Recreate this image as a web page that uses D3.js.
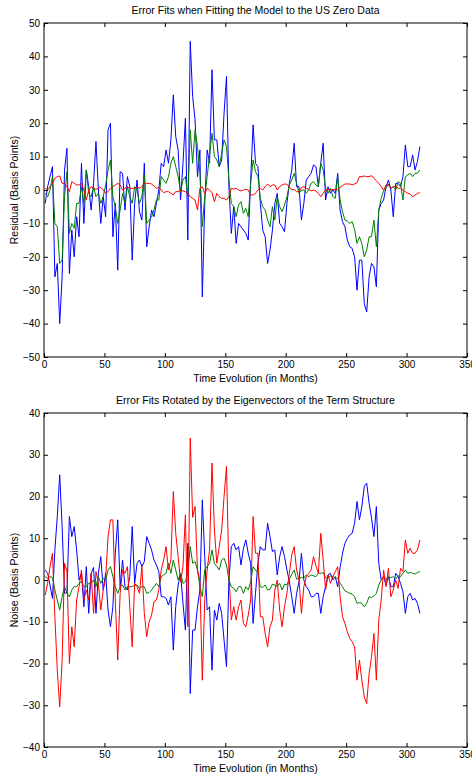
<!DOCTYPE html>
<html lang="en">
<head>
<meta charset="utf-8">
<title>Error Fits</title>
<script src="https://d3js.org/d3.v7.min.js"></script>
<style>
  body { margin: 0; background: #fff; }
  text { font-family: "Liberation Sans", Arial, Helvetica, sans-serif; fill: #000; }
</style>
</head>
<body>
<svg id="chart" width="472" height="774"></svg>
<script>
// months sampled every second month
var months = d3.range(1, 312, 2);

// top panel: residuals (basis points)
var topBlue = [-4,1,4,7,-26,-22,-40,-26,6,12.5,
  -25,-12,-20,-8,-14,8,-10,6,1,-6,
  2,14.5,0,-10,-2,-8,18,20,-14,-4,
  -24,5.5,5,-6,4,1,-21,-4,3,-6.5,
  -9,8,-17,-11,-6,-8,-4,0,8,7,
  12,8,15,28.5,16,12,-3,8,21.5,-15,
  44.5,28,21,4,12,-32,-4,12,8,36,
  15,15,7,9,23,34,1,-13,-5,-16,
  -10,-11,-12,-13,-15,3,19.5,8,7,-4,
  -12,-14,-22,-18,-12,-4,-1,-10,-11,-12.5,
  -4,2,6,14,1,1,-9,-4,3,4,
  5,7.5,7,1,8,14,-3,1,-1,0,
  -1,5,-6,-9.5,-11,-15,-17,-17.5,-20,-30,
  -21,-21,-34,-36.5,-26,-22,-23,-29,-6,-4,
  -3,1,3,0,-8,2,2,1,4,13.5,
  7,7,10.5,6,8.5,13];
var topGreen = [-1,-2,0,4,-10,-11,-22,-21,-2,5.5,
  -13,-10,-11.5,-4,-4,1,-4,6,-1,-2,
  1,-2,-1,-4,-2,1.5,6,9,-2,-5,
  -10,-6,-1,-4,1,-2,-4,1,0,-4,
  -2,4.5,-10,-9,-8,-6,-3,-3,4,3,
  2,4,8,10,7,4,-0.5,3,4,-2,
  18,8,18,13,5,-11,-2,4,10.5,17,
  10,9,7,11,15,13,3,-4,-5,-8,
  -4.5,-3.5,-7,-5.5,-8,2,9,5.5,4,-2.5,
  -5,-6,-9,-11,-5,-9,-2,-5,-6.5,-4.5,
  -2,1.5,3,5,2,-1,0,0,-1,0,
  2,2.5,1.5,1,8,6,0.5,-1,0.5,-2,
  -2.5,4,-3,-6.5,-9,-9.3,-10,-9.5,-11.8,-16,
  -14,-16,-20,-18,-14,-14,-9,-17,-6,-2.5,
  -0.2,0.5,1.8,0.5,1,0,2.5,2,-3,4,
  4.5,5,4,5,5,6];
var topRed = [0.5,0,1,2,3.5,4,4.2,2,2,1,
  -0.5,2.5,2,1.5,1.5,2,0,-3,0,1,
  0.5,0.2,0.5,0.8,0,-1,-0.5,0.5,1,1.5,
  2,1.5,0,0.5,1,0.5,0.5,0.5,1,0.5,
  1,2,2,2,1.8,1.2,0.5,0.8,0,-0.8,
  -0.5,-0.5,-1,-1.5,-0.5,-0.5,0,-0.3,-0.5,-1,
  -2,-2.5,-3,-6,0.5,1,-1,0.5,0,-0.8,
  -3.5,-1,-2,-2.5,-2.5,-3,-2,0.5,0.3,0.5,
  0,-0.3,0,0.2,0,-1.5,-1.5,-1,0,0.5,
  0,1,1.8,1,1.5,1.5,0,1,1.5,1.8,
  1.7,1,0,0.2,-0.5,-0.5,0.8,1,0.5,0.2,
  -0.3,0,-0.3,-1,-2,-1,0,0.2,0,0.2,
  0,0.2,0.8,1.3,1.8,1.8,1.8,1.6,1.8,2.2,
  4,4,4.2,4,4,4.3,3.5,2.8,2,1,
  0,1.5,1.5,0.5,1,1.2,0.5,0.5,0,-0.5,
  -1,-1.2,-2,-1.5,-1,-0.8];

// bottom panel: rotated noise (basis points)
var bottomBlue = [2.4,1.6,-1.2,-4.4,7.2,15.2,25.2,12.8,-3.2,-3,
  15.2,10.4,12.8,7.2,0,1.6,-6.4,3.2,-8,1.6,
  3,-8,1.6,5.6,-2.4,1.6,-7.2,-11.2,-6.4,6.4,
  14.4,-1.6,4.8,-1.6,-2.4,0.8,12.8,-0.8,4,4.8,
  3.2,4.4,10.4,8.8,7.2,4.8,3.6,2,-4,-4,
  -4.4,-6,-4,-16.8,-6.4,-1.2,1.6,-5.6,-12,8.8,
  -27.2,-12,-12,-6.4,-2.4,19.2,5.6,-7.2,-6.4,-21.6,
  -7.2,-9.6,-5.6,-8,-14.4,-20.8,0,8,8.8,7.2,
  8,3.6,7.6,9.6,6.4,4,-10.4,-3.2,4,8,
  7.2,7.2,13.6,10.4,6.8,7.2,1.2,5.6,8,5.6,
  2.4,-0.4,-4,-8,-3.2,-0.4,6.4,0,-1.6,-2.4,
  -4,-4,-3.2,-3.2,-8,-4,-1.6,1.2,1.6,0,
  0.8,-1.6,3,6.4,8.8,10,10.8,11.2,13.6,18.8,
  14.4,17.6,22.4,23.2,18.4,14.8,10.4,17.6,4,0,
  0.8,-1.2,0.8,-1.6,-1.6,1.6,0.8,-0.8,-2.8,-8,
  -4,-3.2,-4.8,-4.4,-5.6,-8];
var bottomGreen = [0.8,0.4,0.8,0.6,-2.4,-4.8,-7.2,-4,-1.6,-3.2,
  -4,-2.4,-1.6,-1.6,-0.8,-0.4,-1.6,-1.6,-0.8,-0.8,
  0,-1.6,0.8,-0.8,0.4,0,2.4,3.2,0.8,-1.6,
  -3.2,-1.6,-1.2,-2.4,-1.6,-1.6,-1.6,-1.2,-1.2,-2,
  -1.6,-1.6,-3.2,-3,-2.4,-1.6,-0.8,-1.6,0.8,1.2,
  1.6,4,1.6,4.8,2.4,0,1.6,-0.8,-0.4,1.6,
  8,4,4.4,2.4,-1.6,-4,2.4,3.2,4,7.2,
  4,3.2,2.4,4.8,5.2,3.6,0,-1.6,-2,-2.8,
  -1.6,-1.6,-3.2,-1.6,-2.4,-0.4,3.2,2.4,1.6,-1.6,
  -1.8,-1.2,-2.4,-2.2,-1,-1.2,-1.6,-0.8,-2.4,-1,
  -1.2,0.2,1.4,2.4,0.2,0.4,0.6,0.5,1.2,0.8,
  1.2,1,0.8,1.6,1.6,1.8,0.6,0.4,1,0.8,
  0.6,0.4,-0.8,-1.6,-2.6,-2.9,-3.2,-3.4,-4,-5.6,
  -5.4,-5.6,-6.4,-5.6,-4,-4.2,-3.8,-3.2,-1.2,0,
  0.6,0.2,0.6,0.6,0.8,0.2,1,0.8,1.6,2.4,
  1.6,1.8,1.6,1.4,1.8,2];
var bottomRed = [-3.6,-0.8,3.2,6.4,-8.8,-21.6,-30.4,-19.2,4,2,
  -20,-11.2,-16,-4.8,-1.6,2.4,-4.8,-2.4,-4.8,1.6,
  -8,2,-0.8,-7.2,-2.4,0.4,10.4,14.4,14.4,-4.8,
  -19.2,-3.2,2.4,1.6,3.2,-6.4,-16,-0.8,-1.6,-3.2,
  3.2,-8,-13.6,-10,-8.4,-5.2,-4.8,-2.4,2.4,4.8,
  8,2.4,4.8,21.2,11.2,5.6,-0.4,3.2,15.6,-11.2,
  34,15,17.6,2.4,-0.4,-24,-4.8,2.4,7.2,28,
  12,4,8,12,20,27.2,1.6,-9.6,-6.4,-9.6,
  -6.4,-4.8,-10.4,-11.2,-8.4,-4.8,15.2,6.4,6.4,-8.8,
  -8.8,-12.8,-16,-11.2,-9.6,-2.4,0,-7.2,-11.2,-6.4,
  -3.2,1.6,6,8,2.4,0,-8,-1.6,0.8,1.6,
  2.4,5.6,3.4,1.6,11.2,4.8,-2.4,1.2,-0.8,0.8,
  2,3.2,-4,-8.8,-10.4,-12.4,-14,-14.8,-16,-24,
  -19.2,-24,-28,-29.6,-22.4,-18.4,-12.8,-24,-9.6,-4.8,
  2.4,-1.6,2.8,-4,-2.4,0,-2,2.8,2,9.6,
  6.4,7.6,6.4,6.4,7.2,9.6];

var xTicks = [0, 50, 100, 150, 200, 250, 300, 350];
var topYTicks = [-50, -40, -30, -20, -10, 0, 10, 20, 30, 40, 50];
var bottomYTicks = [-40, -30, -20, -10, 0, 10, 20, 30, 40];

var svg = d3.select('#chart');
var left = 44, right = 467, tick = 4;

var x = d3.scaleLinear().domain([0, 350]).range([left, right]);

function drawPanel(opts) {
	var g = svg.append('g');
	var y = d3.scaleLinear().domain(opts.domain).range([opts.bottom, opts.top]);

	var line = d3.line()
		.x(function (d, i) { return x(months[i]); })
		.y(function (d) { return y(d); });

	opts.series.forEach(function (s) {
		g.append('path')
			.datum(s.values)
			.attr('fill', 'none')
			.attr('stroke', s.color)
			.attr('stroke-width', 1)
			.attr('stroke-linejoin', 'round')
			.attr('d', line);
	});

	// axes, matlab style: ticks inside on all four sides
	var ax = g.append('g').attr('transform', 'translate(0,' + opts.bottom + ')')
		.call(d3.axisBottom(x).tickValues(xTicks).tickSize(-tick).tickSizeOuter(0).tickPadding(4));
	g.append('g').attr('transform', 'translate(0,' + opts.top + ')')
		.call(d3.axisTop(x).tickValues(xTicks).tickSize(-tick).tickSizeOuter(0).tickFormat(''));
	var ay = g.append('g').attr('transform', 'translate(' + left + ',0)')
		.call(d3.axisLeft(y).tickValues(opts.ticks).tickSize(-tick).tickSizeOuter(0).tickPadding(4));
	g.append('g').attr('transform', 'translate(' + right + ',0)')
		.call(d3.axisRight(y).tickValues(opts.ticks).tickSize(-tick).tickSizeOuter(0).tickFormat(''));

	g.selectAll('.domain').remove();
	g.selectAll('.tick line').attr('stroke', '#000');
	g.selectAll('.tick text')
		.style('font-family', '"Liberation Sans", Arial, sans-serif')
		.style('font-size', '10px')
		.attr('fill', '#000');

	g.append('rect')
		.attr('x', left).attr('y', opts.top)
		.attr('width', right - left).attr('height', opts.bottom - opts.top)
		.attr('fill', 'none').attr('stroke', '#000').attr('stroke-width', 1);

	g.append('text')
		.attr('x', (left + right) / 2).attr('y', opts.top - 9)
		.attr('text-anchor', 'middle')
		.style('font-size', '10.5px')
		.text(opts.title);

	g.append('text')
		.attr('x', (left + right) / 2).attr('y', opts.bottom + 25)
		.attr('text-anchor', 'middle')
		.style('font-size', '10.5px')
		.text('Time Evolution (in Months)');

	g.append('text')
		.attr('transform', 'translate(18,' + (opts.top + opts.bottom) / 2 + ') rotate(-90)')
		.attr('text-anchor', 'middle')
		.style('font-size', '10.5px')
		.text(opts.ylabel);
}

drawPanel({
	top: 23, bottom: 357, domain: [-50, 50], ticks: topYTicks,
	title: 'Error Fits when Fitting the Model to the US Zero Data',
	ylabel: 'Residual (Basis Points)',
	series: [
		{values: topBlue, color: '#0000ff'},
		{values: topGreen, color: '#008000'},
		{values: topRed, color: '#ff0000'}
	]
});

drawPanel({
	top: 413, bottom: 747, domain: [-40, 40], ticks: bottomYTicks,
	title: 'Error Fits Rotated by the Eigenvectors of the Term Structure',
	ylabel: 'Noise (Basis Points)',
	series: [
		{values: bottomBlue, color: '#0000ff'},
		{values: bottomGreen, color: '#008000'},
		{values: bottomRed, color: '#ff0000'}
	]
});
</script>
</body>
</html>
